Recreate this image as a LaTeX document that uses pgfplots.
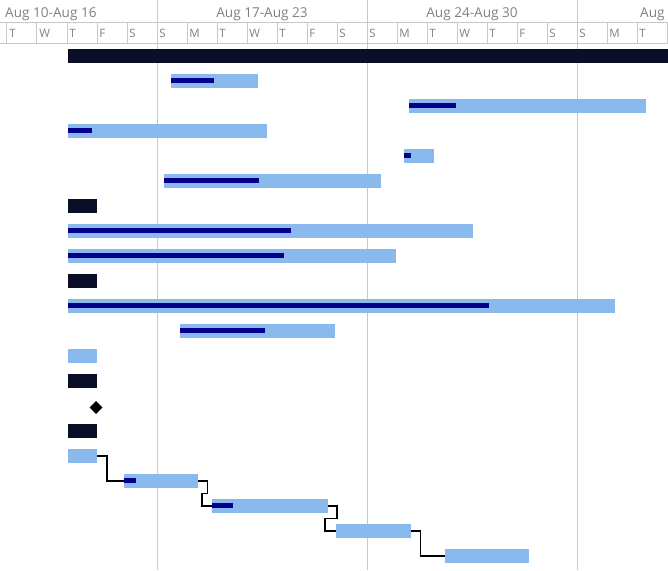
\documentclass[border=0pt]{standalone}
\usepackage{pgfplots}
\pgfplotsset{compat=1.18}
\usepackage{fontspec}
\setmainfont{Open Sans}
\definecolor{lb}{RGB}{138,185,238}
\definecolor{prog}{RGB}{0,0,140}
\definecolor{summ}{RGB}{10,14,38}
\definecolor{hdr}{RGB}{128,128,128}
\definecolor{hline}{RGB}{200,200,200}
\definecolor{gline}{RGB}{200,200,200}
\newcommand{\dl}[2]{\node[anchor=base west, inner sep=0, text=hdr, font=\fontsize{11.5}{13}\selectfont] at (axis cs:#1,37) {#2};}
\begin{document}
\begin{tikzpicture}
\begin{axis}[scale only axis, width=668pt, height=570pt,
  xmin=-5.2333, xmax=17.0333, ymin=0, ymax=570, y dir=reverse,
  hide axis, clip=true]
% body week gridlines
\draw[gline, line width=1pt] (axis cs:0,44) -- (axis cs:0,570);
\draw[gline, line width=1pt] (axis cs:7,44) -- (axis cs:7,570);
\draw[gline, line width=1pt] (axis cs:14,44) -- (axis cs:14,570);
% header lines
\draw[hline, line width=1pt] (axis cs:-5.3,22) -- (axis cs:17.1,22);
\draw[hline, line width=1pt] (axis cs:-5.3,43.5) -- (axis cs:17.1,43.5);
\draw[hline, line width=1pt] (axis cs:0,0) -- (axis cs:0,43.5);
\draw[hline, line width=1pt] (axis cs:7,0) -- (axis cs:7,43.5);
\draw[hline, line width=1pt] (axis cs:14,0) -- (axis cs:14,43.5);
\pgfplotsinvokeforeach{-5,-4,-3,-2,-1,1,2,3,4,5,6,8,9,10,11,12,13,15,16,17}{
  \draw[hline, line width=1pt] (axis cs:#1,22) -- (axis cs:#1,43.5);
}
% week labels
\node[anchor=base west, inner sep=0, text=hdr, font=\fontsize{13.6}{15}\selectfont] at (axis cs:-5.067,17) {Aug 10-Aug 16};
\node[anchor=base, inner sep=0, text=hdr, font=\fontsize{13.6}{15}\selectfont] at (axis cs:3.5,17) {Aug 17-Aug 23};
\node[anchor=base, inner sep=0, text=hdr, font=\fontsize{13.6}{15}\selectfont] at (axis cs:10.5,17) {Aug 24-Aug 30};
\node[anchor=base west, inner sep=0, text=hdr, font=\fontsize{13.6}{15}\selectfont] at (axis cs:16.1,17) {Aug};
% day labels
\dl{-4.93}{T}\dl{-3.93}{W}\dl{-2.93}{T}\dl{-1.93}{F}\dl{-0.93}{S}
\dl{0.07}{S}\dl{1.07}{M}\dl{2.07}{T}\dl{3.07}{W}\dl{4.07}{T}\dl{5.07}{F}\dl{6.07}{S}
\dl{7.07}{S}\dl{8.07}{M}\dl{9.07}{T}\dl{10.07}{W}\dl{11.07}{T}\dl{12.07}{F}\dl{13.07}{S}
\dl{14.07}{S}\dl{15.07}{M}\dl{16.07}{T}
% task bars
\addplot[lb, line width=14pt, unbounded coords=jump] table[x=x,y=y] {
x y
0.47 81
3.37 81
nan nan
8.4 106
16.3 106
nan nan
-2.97 131
3.67 131
nan nan
8.23 156
9.23 156
nan nan
0.23 181
7.47 181
nan nan
-2.97 231
10.53 231
nan nan
-2.97 256
7.97 256
nan nan
-2.97 306
15.27 306
nan nan
0.77 331
5.93 331
nan nan
-2.97 356
-2 356
nan nan
-2.97 456
-2 456
nan nan
-1.1 481
1.37 481
nan nan
1.83 506
5.7 506
nan nan
5.97 531
8.47 531
nan nan
9.6 556
12.4 556
};
% progress bars
\addplot[prog, line width=5pt, unbounded coords=jump] table[x=x,y=y] {
x y
0.47 80.5
1.9 80.5
nan nan
8.4 105.5
9.97 105.5
nan nan
-2.97 130.5
-2.17 130.5
nan nan
8.23 155.5
8.47 155.5
nan nan
0.23 180.5
3.4 180.5
nan nan
-2.97 230.5
4.47 230.5
nan nan
-2.97 255.5
4.23 255.5
nan nan
-2.97 305.5
11.07 305.5
nan nan
0.77 330.5
3.6 330.5
nan nan
-1.1 480.5
-0.7 480.5
nan nan
1.83 505.5
2.53 505.5
};
% summary bars
\addplot[summ, line width=14pt, unbounded coords=jump] table[x=x,y=y] {
x y
-2.97 56
17.3 56
nan nan
-2.97 206
-2 206
nan nan
-2.97 281
-2 281
nan nan
-2.97 381
-2 381
nan nan
-2.97 431
-2 431
};
% milestone
\addplot[only marks, mark=square*, mark size=4.3pt, mark options={rotate=45, fill=black, draw=black}] coordinates {(-2.03,407.5)};
% connectors
\addplot[black, line width=1.2pt] coordinates {(-2,456) (-1.67,456) (-1.67,481) (-1.1,481)};
\addplot[black, line width=1.2pt] coordinates {(1.37,481) (1.67,481) (1.67,493.5) (1.5,493.5) (1.5,506) (1.83,506)};
\addplot[black, line width=1.2pt] coordinates {(5.7,506) (6,506) (6,518.5) (5.6,518.5) (5.6,531) (5.97,531)};
\addplot[black, line width=1.2pt] coordinates {(8.47,531) (8.77,531) (8.77,556) (9.6,556)};
\end{axis}
\pgfresetboundingbox
\useasboundingbox (current axis.south west) rectangle (current axis.north east);
\end{tikzpicture}
\end{document}
